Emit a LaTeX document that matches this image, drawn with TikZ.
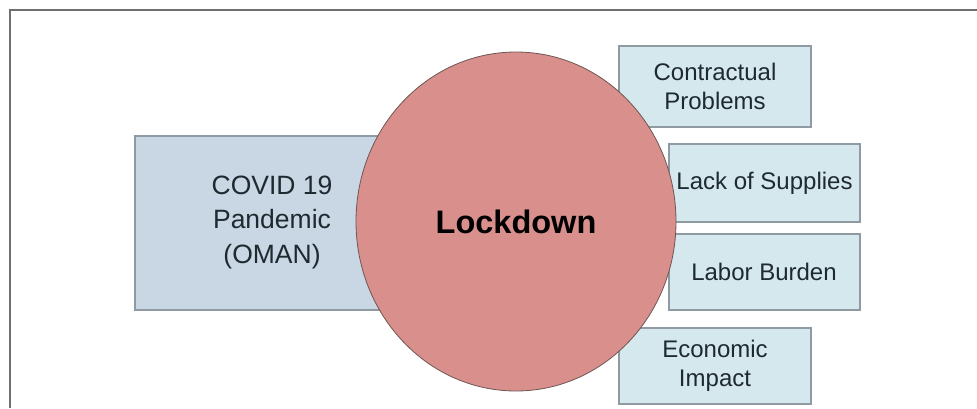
\documentclass[tikz,border=0pt]{standalone}
\usepackage{fontspec}
\setmainfont{Liberation Sans}
\usetikzlibrary{shapes.geometric}
\definecolor{covidfill}{HTML}{C9D6E4}
\definecolor{boxfill}{HTML}{D4E8EE}
\definecolor{boxline}{HTML}{8F9AA2}
\definecolor{circfill}{HTML}{D98F8C}
\definecolor{circline}{HTML}{6E5654}
\definecolor{frameline}{HTML}{707070}
\definecolor{txt}{HTML}{1E2A30}
\tikzset{
  bx/.style={draw=boxline, line width=1.2pt, fill=boxfill},
  cbx/.style={draw=boxline, line width=1.2pt, fill=covidfill},
  rtxt/.style={text=txt, font=\fontsize{24}{29}\selectfont, align=center, inner sep=0pt},
  ctxt/.style={text=txt, font=\fontsize{26.5}{34.5}\selectfont, align=center, inner sep=0pt},
}
\begin{document}
\begin{tikzpicture}[x=1pt,y=-1pt]
\useasboundingbox (0,0) rectangle (977,408);
\fill[white] (0,0) rectangle (977,408);
% frame
\draw[frameline, line width=2pt] (10,408) -- (10,10) -- (977,10);
% boxes
\path[cbx] (135,136) rectangle (400,310);
\path[bx] (619,46) rectangle (811,127);
\path[bx] (669,144) rectangle (860,222);
\path[bx] (669,234) rectangle (860,310);
\path[bx] (619,328) rectangle (811,404);
\coordinate (covid) at (272,222);
\coordinate (contr) at (715,86.5);
\coordinate (lack) at (764.5,183);
\coordinate (labor) at (764,272);
\coordinate (econ) at (715,366);
% circle
\node[ellipse, draw=circline, line width=0.8pt, fill=circfill, minimum width=320pt, minimum height=339pt, inner sep=0pt] (lock) at (516,221.5) {};
% texts
\node[ctxt] (tcovid) at (covid) {COVID 19\\Pandemic\\(OMAN)};
\node[rtxt] (tcontr) at (contr) {Contractual\\Problems};
\node[rtxt] (tlack) at (lack) {Lack of Supplies};
\node[rtxt] (tlabor) at (labor) {Labor Burden};
\node[rtxt] (tecon) at (econ) {Economic\\Impact};
\node[text=black, font=\fontsize{32.5}{36}\selectfont\bfseries, inner sep=0pt] (tlock) at (lock.center) {Lockdown};
\end{tikzpicture}
\end{document}
